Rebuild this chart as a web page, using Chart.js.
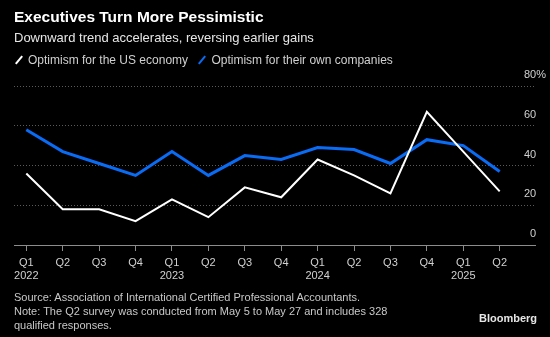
<!DOCTYPE html>
<html>
<head>
<meta charset="utf-8">
<script src="https://cdn.jsdelivr.net/npm/chart.js@4/dist/chart.umd.min.js"></script>
<style>
  html, body { margin: 0; padding: 0; background: #000; }
  #wrap { position: relative; width: 550px; height: 337px; background: #000; overflow: hidden; font-family: "Liberation Sans", Arial, sans-serif; }
  #title { position: absolute; left: 14px; top: 8px; color: #fff; font-weight: bold; font-size: 15.5px; white-space: nowrap; }
  #subtitle { position: absolute; left: 14px; top: 30px; color: #e6e6e6; font-size: 13px; white-space: nowrap; }
  #legend { position: absolute; left: 14px; top: 53px; color: #d0d0d0; font-size: 12px; white-space: nowrap; }
  .item { display: inline-block; margin-right: 6px; }
  .sw { display: inline-block; width: 2px; height: 10px; transform: rotate(40deg); vertical-align: -1px; margin: 0 8px 0 4px; }
  #source { position: absolute; left: 14px; top: 290px; color: #c8c8c8; font-size: 11px; line-height: 14px; white-space: nowrap; }
  #brand { position: absolute; right: 13px; top: 312px; color: #e6e6e6; font-size: 11px; font-weight: bold; }
  canvas { position: absolute; left: 0; top: 0; }
</style>
</head>
<body>
<div id="wrap">
  <canvas id="c" width="550" height="337"></canvas>
  <div id="title">Executives Turn More Pessimistic</div>
  <div id="subtitle">Downward trend accelerates, reversing earlier gains</div>
  <div id="legend">
    <span class="item"><span class="sw" style="background:#ffffff"></span>Optimism for the US economy</span>
    <span class="item"><span class="sw" style="background:#0a6cf5"></span>Optimism for their own companies</span>
  </div>
  <div id="source">Source: Association of International Certified Professional Accountants.<br>Note: The Q2 survey was conducted from May 5 to May 27 and includes 328<br>qualified responses.</div>
  <div id="brand">Bloomberg</div>
</div>
<script>
const quarters = ["Q1","Q2","Q3","Q4","Q1","Q2","Q3","Q4","Q1","Q2","Q3","Q4","Q1","Q2"];
const years    = ["2022","","","","2023","","","","2024","","","","2025",""];
const usEconomy   = [36,18,18,12,23,14,29,24,43,35,26,67,47,27];
const ownCompany  = [58,47,41,35,47,35,45,43,49,48,41,53,50,37];
const yTicks = [0,20,40,60,80];
const seriesNames = ["Optimism for the US economy","Optimism for their own companies"];

const toPoints = arr => arr.map((v, i) => ({x: i, y: v}));

new Chart(document.getElementById('c'), {
  type: 'line',
  data: {
    datasets: [
      { label: seriesNames[0], data: toPoints(usEconomy), borderColor: '#ffffff', borderWidth: 2, pointRadius: 0, tension: 0 },
      { label: seriesNames[1], data: toPoints(ownCompany), borderColor: '#0a6cf5', borderWidth: 3, pointRadius: 0, tension: 0 }
    ]
  },
  options: {
    responsive: false,
    animation: false,
    events: [],
    layout: { padding: { top: 86, left: 14, right: 0, bottom: 44 } },
    plugins: { legend: { display: false }, title: { display: false }, tooltip: { enabled: false } },
    scales: {
      x: {
        type: 'linear',
        min: -0.338,
        max: 13.97,
        afterBuildTicks: s => { s.ticks = quarters.map((q, i) => ({ value: i })); },
        afterFit: s => { s.height = 48; },
        grid: { drawOnChartArea: false, drawTicks: true, tickLength: 6, color: '#8c8c8c', lineWidth: 1 },
        border: { display: true, color: '#8c8c8c', width: 1 },
        ticks: {
          color: '#d0d0d0',
          font: { family: '"Liberation Sans", Arial, sans-serif', size: 11 },
          padding: 5,
          maxRotation: 0,
          autoSkip: false,
          callback: (v) => { const i = Math.round(v); return years[i] ? [quarters[i], years[i]] : quarters[i]; }
        }
      },
      y: {
        position: 'right',
        min: 0,
        max: 80,
        afterBuildTicks: s => { s.ticks = yTicks.map(v => ({ value: v })); },
        afterFit: s => { s.width = 15; },
        grid: { drawTicks: false, color: (ctx) => ctx.tick && ctx.tick.value === 0 ? 'rgba(0,0,0,0)' : '#5a5a5a', lineWidth: 1 },
        border: { display: false, dash: [1, 2] },
        ticks: {
          color: '#d0d0d0',
          font: { family: '"Liberation Sans", Arial, sans-serif', size: 11 },
          mirror: true,
          crossAlign: 'far',
          padding: 11,
          labelOffset: -11,
          callback: (v) => v === 80 ? '80%' : (v === 0 ? '\u20070' : String(v))
        }
      }
    }
  }
});
</script>
</body>
</html>
